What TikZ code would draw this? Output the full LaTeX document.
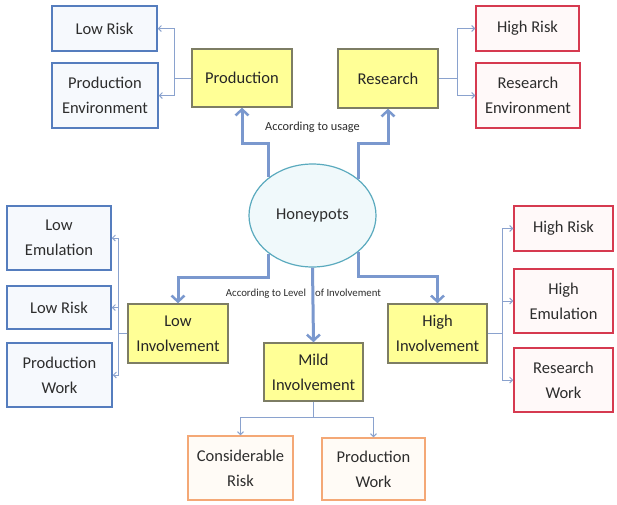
\documentclass[tikz,border=0pt]{standalone}
\usepackage{fontspec}
\setmainfont{Carlito}
\usetikzlibrary{arrows.meta,shapes.geometric}

\definecolor{txt}{RGB}{45,45,45}
\definecolor{lowline}{RGB}{85,125,190}
\definecolor{lowfill}{RGB}{246,249,253}
\definecolor{highline}{RGB}{214,58,80}
\definecolor{highfill}{RGB}{255,249,249}
\definecolor{midline}{RGB}{244,168,118}
\definecolor{midfill}{RGB}{255,251,246}
\definecolor{catline}{RGB}{125,125,100}
\definecolor{catfill}{RGB}{255,255,150}
\definecolor{potline}{RGB}{90,170,190}
\definecolor{potfill}{RGB}{240,249,251}
\definecolor{flowc}{RGB}{122,152,206}
\definecolor{linkc}{RGB}{138,162,206}

\tikzset{
	box/.style={line width=1.5pt, align=center, inner sep=0pt, text=txt,
		font=\fontsize{16.5}{25}\selectfont},
	lowbox/.style={box, draw=lowline, fill=lowfill},
	highbox/.style={box, draw=highline, fill=highfill},
	midbox/.style={box, draw=midline, fill=midfill},
	catbox/.style={box, draw=catline, fill=catfill, text=black!85},
	flow/.style={draw=flowc, line width=3pt, -{Straight Barb[length=6pt,width=13pt,line width=2.5pt]}},
	link/.style={draw=linkc, line width=0.9pt, -{Straight Barb[length=3pt,width=6pt]}}
}

\begin{document}
\begin{tikzpicture}[x=1pt,y=-1pt]
	
	\fill[white] (0,0) rectangle (617,504);
	\useasboundingbox (0,0) rectangle (617,504);
	
	\node[ellipse, draw=potline, fill=potfill, line width=1.2pt, minimum width=127pt, minimum height=103pt,
		text=txt, font=\fontsize{16.5}{20}\selectfont] (hp) at (312.5,215.5) {Honeypots};
	
	\node[catbox, minimum width=100pt, minimum height=58pt] (prod) at (242,78) {Production};
	\node[catbox, minimum width=100pt, minimum height=59pt] (res) at (388,78.5) {Research};
	
	\node[lowbox, minimum width=105pt, minimum height=45pt] (lr) at (104.5,28.5) {Low Risk};
	\node[lowbox, minimum width=106pt, minimum height=65pt] (penv) at (105,95.5) {Production\\Environment};
	
	\node[highbox, minimum width=103pt, minimum height=45pt] (hr) at (527.5,28.5) {High Risk};
	\node[highbox, minimum width=104pt, minimum height=65pt] (renv) at (528,95.5) {Research\\Environment};
	
	\node[catbox, minimum width=100pt, minimum height=59pt] (lowi) at (178,333.5) {Low\\Involvement};
	\node[catbox, minimum width=99pt, minimum height=58pt] (midi) at (313.5,372) {Mild\\Involvement};
	\node[catbox, minimum width=99pt, minimum height=59pt] (highi) at (437.5,333.5) {High\\Involvement};
	
	\node[lowbox, minimum width=104pt, minimum height=64pt] (lemu) at (59,238) {Low\\Emulation};
	\node[lowbox, minimum width=104pt, minimum height=43pt] (lr2) at (59,307.5) {Low Risk};
	\node[lowbox, minimum width=105pt, minimum height=64pt] (pw) at (59.5,375) {Production\\Work};
	
	\node[highbox, minimum width=99pt, minimum height=45pt] (hr2) at (563.5,228.5) {High Risk};
	\node[highbox, minimum width=99pt, minimum height=64pt] (hemu) at (563.5,301) {High\\Emulation};
	\node[highbox, minimum width=99pt, minimum height=64pt] (rw) at (563.5,380) {Research\\Work};
	
	\node[midbox, minimum width=105pt, minimum height=64pt] (crisk) at (240.5,468) {Considerable\\Risk};
	\node[midbox, minimum width=103pt, minimum height=62pt] (pw2) at (373.5,469) {Production\\Work};
	
	\node[text=txt, font=\fontsize{12.3}{14}\selectfont] (usage) at (312.5,127.5) {According to usage};
	\node[text=txt, font=\fontsize{10.8}{13}\selectfont] (level) at (303.5,294) {According to Level\hspace{9pt}of Involvement};
	
	\draw[flow] (hp.139) |- ([yshift=-36pt]prod.south) -- (prod.south);
	\draw[flow] (hp.38) |- ([yshift=-35pt]res.south) -- (res.south);
	\draw[flow] (hp.-139) |- ([yshift=26pt]lowi.north) -- (lowi.north);
	\draw[flow] (hp.-38) |- ([yshift=27pt]highi.north) -- (highi.north);
	\draw[flow] (hp.south) -- (midi.north);
	
	\draw[link] (prod.west) -- ++(-17,0) |- (lr);
	\draw[link] (prod.west) -- ++(-17,0) |- (penv);
	\draw[link] (res.east) -- ++(19,0) |- (hr);
	\draw[link] (res.east) -- ++(19,0) |- (renv);
	
	\draw[link] (lowi.west) -- ++(-9,0) |- (lemu);
	\draw[link] (lowi.west) -- ++(-9,0) |- (lr2);
	\draw[link] (lowi.west) -- ++(-9,0) |- (pw);
	\draw[link] (highi.east) -- ++(15,0) |- (hr2);
	\draw[link] (highi.east) -- ++(15,0) |- (hemu);
	\draw[link] (highi.east) -- ++(15,0) |- (rw);
	
	\draw[link] (midi.south) -- ++(0,16) -| (crisk);
	\draw[link] (midi.south) -- ++(0,16) -| (pw2);
	
\end{tikzpicture}
\end{document}
